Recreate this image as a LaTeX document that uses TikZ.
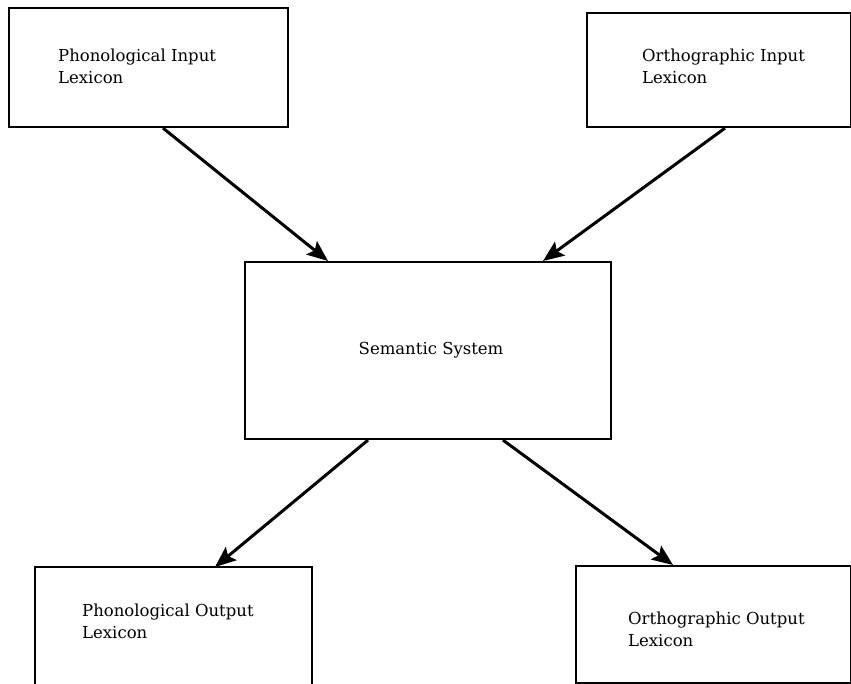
\documentclass[tikz,border=0pt]{standalone}
\usepackage{fontspec}
\setmainfont{DejaVu Serif}
\usetikzlibrary{arrows.meta}
\begin{document}
\begin{tikzpicture}[x=1pt,y=-1pt,
  box/.style={draw=black,line width=2.1pt,rectangle,inner sep=0pt,anchor=north west},
  openbox/.style={rectangle,inner sep=0pt,anchor=north west},
  txt/.style={font=\fontsize{16.5}{22}\selectfont},
  lbl/.style={txt,anchor=north west,align=left,inner sep=0pt},
  arr/.style={line width=3pt,-{Stealth[length=21pt,width=17pt,inset=4pt]}}]
  \useasboundingbox (0,0) rectangle (851,683);
  % lexicon boxes
  \node[box,minimum width=279pt,minimum height=119pt] (pin) at (8,7) {};
  \node[box,minimum width=264pt,minimum height=114pt] (oin) at (586,12) {};
  \node[box,minimum width=366pt,minimum height=177pt] (sem) at (244,261) {};
  \node[openbox,minimum width=277pt,minimum height=117pt] (pout) at (35,567) {};
  \draw[line width=2.1pt] (pout.south west) -- (pout.north west) -- (pout.north east) -- (pout.south east);
  \node[box,minimum width=275pt,minimum height=117pt] (oout) at (575,565) {};
  % labels
  \node[lbl] (tpin) at (58,49) {Phonological Input\\Lexicon};
  \node[lbl] (toin) at (642,49) {Orthographic Input\\Lexicon};
  \node[txt] (tsem) at ([xshift=3pt]sem.center) {Semantic System};
  \node[lbl] (tpout) at (82,604) {Phonological Output\\Lexicon};
  \node[lbl] (toout) at (628,612) {Orthographic Output\\Lexicon};
  % connections
  \draw[arr] ([xshift=155pt]pin.south west) -- ([xshift=84pt]sem.north west);
  \draw[arr] ([xshift=139pt]oin.south west) -- ([xshift=299pt]sem.north west);
  \draw[arr] ([xshift=124pt]sem.south west) -- ([xshift=180pt]pout.north west);
  \draw[arr] ([xshift=259pt]sem.south west) -- ([xshift=98pt]oout.north west);
\end{tikzpicture}
\end{document}
